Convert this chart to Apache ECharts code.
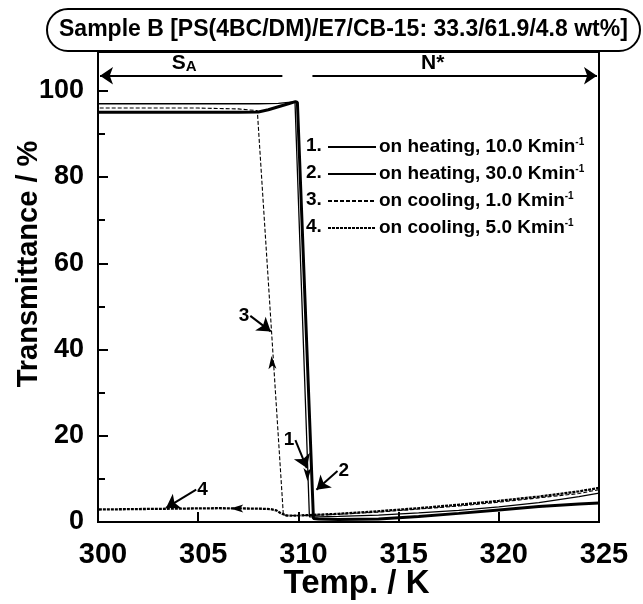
<!DOCTYPE html>
<html>
<head>
<meta charset="utf-8">
<script src="https://cdn.jsdelivr.net/npm/echarts@6/dist/echarts.min.js"></script>
<style>html,body{margin:0;padding:0;background:#fff}#c{width:643px;height:604px}</style>
</head>
<body>
<div id="c"></div>
<script>
// ---- data ----
const seriesNames = ['on heating, 10.0 Kmin-1','on heating, 30.0 Kmin-1','on cooling, 1.0 Kmin-1','on cooling, 5.0 Kmin-1'];
const heat10X = [300, 302, 304, 306, 308, 309, 309.5, 309.83, 309.88, 310.55, 311, 312, 314, 316, 318, 320, 322, 324, 325];
const heat10Y = [97.0, 97.0, 97.0, 97.0, 97.0, 97.1, 97.3, 97.4, 97.2, 1.2, 1.2, 1.3, 1.6, 2.1, 2.7, 3.5, 4.5, 5.9, 6.7];
const heat30X = [300, 304, 307, 308, 308.5, 309, 309.5, 309.85, 309.95, 310.75, 311, 312, 314, 316, 318, 320, 322, 324, 325];
const heat30Y = [95.0, 95.0, 95.0, 95.1, 95.6, 96.3, 97.0, 97.5, 97.3, 0.8, 0.7, 0.6, 0.7, 1.3, 2.0, 2.8, 3.6, 4.2, 4.4];
const cool1X = [325, 324, 322, 320, 318, 316, 314, 312, 310.5, 309.6, 309.25, 307.95, 307, 305, 303, 300];
const cool1Y = [7.5, 6.6, 5.6, 4.6, 3.7, 3.0, 2.3, 1.8, 1.5, 1.5, 1.6, 95.4, 95.8, 96.0, 96.0, 96.0];
const cool5X = [325, 324, 322, 320, 318, 316, 314, 312, 310, 309.4, 309.1, 308.9, 308.6, 308, 306, 304, 302, 300];
const cool5Y = [7.9, 7.1, 5.9, 4.9, 4.0, 3.2, 2.5, 1.9, 1.5, 1.5, 2.1, 2.7, 3.0, 3.1, 3.2, 3.1, 3.0, 2.9];
// phase arrows and labels (data coordinates)
const phaseArrowY = 103.5;
const saArrow = [309.2, 300.1];
const nArrow = [310.7, 324.9];
const phaseLabels = [['S', 304.3, 106.3], ['N*', 316.7, 106.3]];
// numbered pointer arrows: [label, startX, startY, tipX, tipY]
const pointers = [
  ['1', 309.85, 19.0, 310.42, 12.5],
  ['2', 311.95, 11.8, 310.9, 7.5],
  ['3', 307.6, 47.8, 308.62, 44.2],
  ['4', 304.9, 7.5, 303.4, 3.3]
];
// arrowheads on curves: [x, y, rotation]
const curveArrows = [[308.66, 38.5, 4], [306.6, 3.15, 90], [310.45, 9.5, 180]];

const series = [
  {name: seriesNames[0], x: heat10X, y: heat10Y, w: 1.3, t: 'solid'},
  {name: seriesNames[1], x: heat30X, y: heat30Y, w: 3, t: 'solid'},
  {name: seriesNames[2], x: cool1X, y: cool1Y, w: 1.1, t: [4, 2]},
  {name: seriesNames[3], x: cool5X, y: cool5Y, w: 2.3, t: [3, 1]}
].map(s => ({
  name: s.name, type: 'line', symbol: 'none', silent: true,
  data: s.x.map((v, i) => [v, s.y[i]]),
  lineStyle: {color: '#000', width: s.w, type: s.t},
  itemStyle: {color: '#000'}
}));

const FONT = '"Liberation Sans", Arial, Helvetica, sans-serif';
const pointerLines = pointers.map(p => [{coord: [p[1], p[2]]}, {coord: [p[3], p[4]]}]);
const pointerLabels = pointers.map(p => ({
  coord: [p[1], p[2]], value: p[0],
  label: {show: true, formatter: p[0], position: p[3] > p[1] ? 'left' : 'right', distance: 1,
    fontSize: 19, fontWeight: 'bold', color: '#000', fontFamily: FONT}
}));
series.push({
  name: 'annot', type: 'line', data: [], silent: true,
  itemStyle: {color: '#000'},
  markLine: {
    silent: true, animation: false,
    symbol: ['none', 'arrow'], symbolSize: 13,
    itemStyle: {color: '#000'},
    lineStyle: {color: '#000', width: 2, type: 'solid'},
    label: {show: false},
    data: [
      [{coord: [saArrow[0], phaseArrowY]}, {coord: [saArrow[1], phaseArrowY]}],
      [{coord: [nArrow[0], phaseArrowY]}, {coord: [nArrow[1], phaseArrowY]}]
    ].concat(pointerLines)
  },
  markPoint: {
    silent: true, animation: false,
    symbol: 'circle', symbolSize: 0,
    data: pointerLabels.concat(phaseLabels.map(l => ({
      coord: [l[1], l[2]],
      label: {show: true, position: 'inside', color: '#000', fontFamily: FONT,
        formatter: l[0] === 'S' ? '{a|S}{b|A}' : '{a|N*}',
        rich: {a: {fontSize: 21, fontWeight: 'bold', color: '#000', fontFamily: FONT, verticalAlign: 'bottom'},
               b: {fontSize: 15, fontWeight: 'bold', color: '#000', fontFamily: FONT, verticalAlign: 'bottom'}}}
    }))).concat(curveArrows.map(a => ({
      coord: [a[0], a[1]], symbol: 'arrow', symbolSize: [6, 13], symbolRotate: a[2],
      itemStyle: {color: '#000'}, label: {show: false}
    })))
  }
});

const chart = echarts.init(document.getElementById('c'), null, {renderer: 'canvas'});
chart.setOption({
  animation: false,
  backgroundColor: '#fff',
  textStyle: {fontFamily: FONT, color: '#000'},
  title: {
    text: 'Sample B [PS(4BC/DM)/E7/CB-15: 33.3/61.9/4.8 wt%]',
    left: 47, top: 9,
    padding: [8, 12],
    borderColor: '#000', borderWidth: 2, borderRadius: 22,
    backgroundColor: '#fff',
    textStyle: {fontSize: 23, fontWeight: 'bold', color: '#000', fontFamily: FONT, lineHeight: 26}
  },
  legend: {
    data: seriesNames,
    orient: 'vertical', left: 322, top: 132,
    itemWidth: 48, itemHeight: 20, itemGap: 7.5,
    selectedMode: false,
    itemStyle: {opacity: 0},
    formatter: n => '{t|' + n.replace('Kmin-1', 'Kmin') + '}{s|-1}',
    textStyle: {
      color: '#000', fontFamily: FONT, padding: [0, 0, 0, -2],
      rich: {
        t: {fontSize: 19, fontWeight: 'bold', color: '#000', fontFamily: FONT, lineHeight: 20},
        s: {fontSize: 10, fontWeight: 'bold', color: '#000', fontFamily: FONT, lineHeight: 10, verticalAlign: 'top'}
      }
    }
  },
  graphic: [1, 2, 3, 4].map((n, i) => ({
    type: 'text', left: 306, top: 136 + i * 27,
    style: {text: n + '.', font: 'bold 19px ' + FONT, fill: '#000', lineHeight: 20}
  })),
  grid: {left: 98, right: 44, top: 52, bottom: 82, show: true, borderColor: '#000', borderWidth: 2,
         backgroundColor: 'transparent', containLabel: false, outerBoundsMode: 'none'},
  xAxis: {
    type: 'value', min: 300, max: 325, interval: 5,
    name: 'Temp. / K', nameLocation: 'middle', nameGap: 45, nameMoveOverlap: false,
    nameTextStyle: {fontSize: 33, fontWeight: 'bold', color: '#000', fontFamily: FONT, padding: [0, 0, 0, 16]},
    axisLine: {show: true, lineStyle: {color: '#000', width: 2}},
    axisTick: {show: true, inside: true, length: 10, lineStyle: {color: '#000', width: 2}},
    axisLabel: {fontSize: 29, fontWeight: 'bold', color: '#000', margin: 18, fontFamily: FONT, padding: [0, 0, 0, 10]},
    splitLine: {show: false}
  },
  yAxis: {
    type: 'value', min: 0, max: 109, interval: 20,
    name: 'Transmittance / %', nameLocation: 'middle', nameGap: 55, nameMoveOverlap: false,
    nameTextStyle: {fontSize: 29, fontWeight: 'bold', color: '#000', fontFamily: FONT, padding: [0, 0, 0, 46]},
    axisLine: {show: true, lineStyle: {color: '#000', width: 2}},
    axisTick: {show: true, inside: true, length: 10, lineStyle: {color: '#000', width: 2}},
    minorTick: {show: true, splitNumber: 2, length: 7, lineStyle: {color: '#000', width: 2}},
    axisLabel: {fontSize: 27, fontWeight: 'bold', color: '#000', margin: 14, fontFamily: FONT, showMaxLabel: false},
    splitLine: {show: false}, minorSplitLine: {show: false}
  },
  series: series
});
</script>
</body>
</html>
